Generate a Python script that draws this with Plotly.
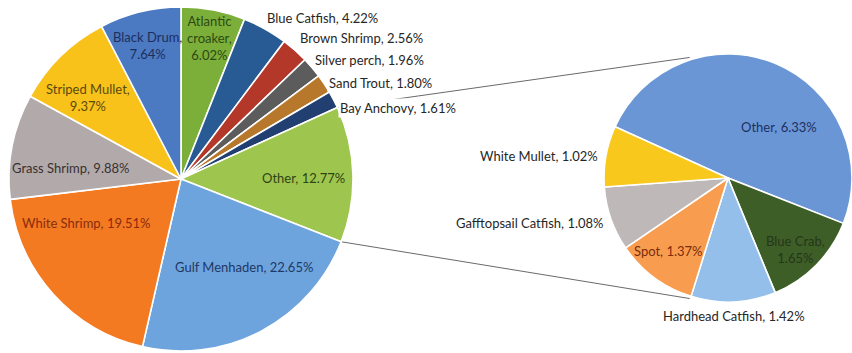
import math
import plotly.graph_objects as go

# ---- data -------------------------------------------------------------
MAIN_LABELS = ["Atlantic croaker", "Blue Catfish", "Brown Shrimp", "Silver perch",
               "Sand Trout", "Bay Anchovy", "Other", "Gulf Menhaden",
               "White Shrimp", "Grass Shrimp", "Striped Mullet", "Black Drum"]
MAIN_VALUES = [6.02, 4.22, 2.56, 1.96, 1.80, 1.61, 12.77, 22.65, 19.51, 9.88, 9.37, 7.64]

SUB_LABELS = ["Other", "Blue Crab", "Hardhead Catfish", "Spot",
              "Gafftopsail Catfish", "White Mullet"]
SUB_VALUES = [6.33, 1.65, 1.42, 1.37, 1.08, 1.02]

# ---- styling ----------------------------------------------------------
MAIN_COLORS = ["#7cae3a", "#285b94", "#b3382a", "#5c5c5c", "#b8782c", "#223f72",
               "#9ec64f", "#6ea4de", "#f47a22", "#b2aaaa", "#f8c21b", "#4b79c2"]
SUB_COLORS = ["#6b96d6", "#3d5e27", "#93bfea", "#f89d4f", "#bfb8b8", "#f8c81c"]

# label placement: radius factor, angle nudge (deg), anchor, wrap mode, text colour
MAIN_LABEL_STYLE = {
    "Atlantic croaker": (0.836, 0.4, "center", "words", "#2d4a14"),
    "Blue Catfish":     (1.056, -1.8, "left", "none", "#262626"),
    "Brown Shrimp":     (1.065, -1.8, "left", "none", "#262626"),
    "Silver perch":     (1.033, -1.6, "left", "none", "#262626"),
    "Sand Trout":       (1.016, 0.3, "left", "none", "#262626"),
    "Bay Anchovy":      (1.002, 3.2, "left", "none", "#262626"),
    "Other":            (0.715, 1.1, "center", "none", "#2e4414"),
    "Gulf Menhaden":    (0.629, -7.8, "center", "none", "#1f3864"),
    "White Shrimp":     (0.609, 17.0, "center", "none", "#8a2c0c"),
    "Grass Shrimp":     (0.643, -5.3, "center", "none", "#3a3030"),
    "Striped Mullet":   (0.717, -4.5, "center", "value", "#5c4a0c"),
    "Black Drum":       (0.800, -0.4, "center", "value", "#1c2f5c"),
}
SUB_LABEL_STYLE = {
    "Other":               (0.585, 22.0, "center", "none", "#1c3060"),
    "Blue Crab":           (0.796, 2.0, "center", "value", "#26361a"),
    "Hardhead Catfish":    (1.110, 0.0, "center", "none", "#262626"),
    "Spot":                (0.760, 3.0, "center", "none", "#7a2c0c"),
    "Gafftopsail Catfish": (1.047, -0.9, "right", "none", "#262626"),
    "White Mullet":        (1.047, -0.3, "right", "none", "#262626"),
}

W, H = 852, 353
FONT = "Lato, 'Open Sans', sans-serif"

# pie geometry (pixels)
MAIN_CX, MAIN_CY, MAIN_R = 181, 179, 172
SUB_CX, SUB_CY, SUB_R = 728, 178, 124
SUB_ROTATION = 294.4
CONNECT_ANGLE = 17.6


def domain(cx, cy, r):
    return dict(x=[(cx - r) / W, min(1.0, (cx + r) / W)],
                y=[max(0.0, (H - (cy + r)) / H), min(1.0, (H - (cy - r)) / H)])


def slice_angles(values, rotation):
    total = sum(values)
    out, acc = [], rotation
    for v in values:
        span = 360.0 * v / total
        out.append((acc, acc + span))
        acc += span
    return out


def polar(cx, cy, r, ang):
    a = math.radians(ang)
    return cx + r * math.sin(a), cy - r * math.cos(a)


def label_text(name, value, wrap):
    if wrap == "words":
        return name.replace(" ", "<br>") + ",<br>" + f"{value:.2f}%"
    if wrap == "value":
        return f"{name},<br>{value:.2f}%"
    return f"{name}, {value:.2f}%"


fig = go.Figure()
fig.add_trace(go.Pie(
    labels=MAIN_LABELS, values=MAIN_VALUES, sort=False, direction="clockwise",
    rotation=0, textinfo="none", hoverinfo="label+percent",
    marker=dict(colors=MAIN_COLORS, line=dict(color="white", width=1.6)),
    domain=domain(MAIN_CX, MAIN_CY, MAIN_R), showlegend=False,
))
fig.add_trace(go.Pie(
    labels=SUB_LABELS, values=SUB_VALUES, sort=False, direction="clockwise",
    rotation=SUB_ROTATION - 360, textinfo="none", hoverinfo="label+value",
    marker=dict(colors=SUB_COLORS, line=dict(color="white", width=1.6)),
    domain=domain(SUB_CX, SUB_CY, SUB_R), showlegend=False,
))

annotations = []


def add_labels(names, values, styles, cx, cy, R, rotation):
    for name, val, (a0, a1) in zip(names, values, slice_angles(values, rotation)):
        rf, nudge, anchor, wrap, color = styles[name]
        px, py = polar(cx, cy, rf * R, (a0 + a1) / 2 + nudge)
        outside = rf > 1.0
        annotations.append(dict(
            x=px / W, y=1 - py / H, xref="paper", yref="paper",
            text=label_text(name, val, wrap), showarrow=False,
            xanchor=anchor, yanchor="middle", align="center",
            font=dict(family=FONT, size=13, color=color),
            bgcolor="white" if outside else None, borderpad=1,
        ))


add_labels(MAIN_LABELS, MAIN_VALUES, MAIN_LABEL_STYLE, MAIN_CX, MAIN_CY, MAIN_R, 0)
add_labels(SUB_LABELS, SUB_VALUES, SUB_LABEL_STYLE, SUB_CX, SUB_CY, SUB_R, SUB_ROTATION)

# connector lines from the "Other" slice to the breakdown pie
other_a0, other_a1 = slice_angles(MAIN_VALUES, 0)[MAIN_LABELS.index("Other")]
start_top = polar(MAIN_CX, MAIN_CY, MAIN_R, other_a0)
start_bot = polar(MAIN_CX, MAIN_CY, MAIN_R, other_a1)
end_top = polar(SUB_CX, SUB_CY, SUB_R * 1.02, -CONNECT_ANGLE)
end_bot = polar(SUB_CX, SUB_CY, SUB_R * 1.02, 180 + CONNECT_ANGLE)
shapes = []
for (x0, y0), (x1, y1) in [(start_top, end_top), (start_bot, end_bot)]:
    shapes.append(dict(type="line", xref="paper", yref="paper",
                       x0=x0 / W, y0=1 - y0 / H, x1=x1 / W, y1=1 - y1 / H,
                       line=dict(color="#6a6a6a", width=1), layer="below"))

fig.update_layout(
    width=W, height=H, margin=dict(l=0, r=0, t=0, b=0),
    paper_bgcolor="white", plot_bgcolor="white",
    annotations=annotations, shapes=shapes,
    font=dict(family=FONT, size=13),
)

fig.write_html("out.html")
